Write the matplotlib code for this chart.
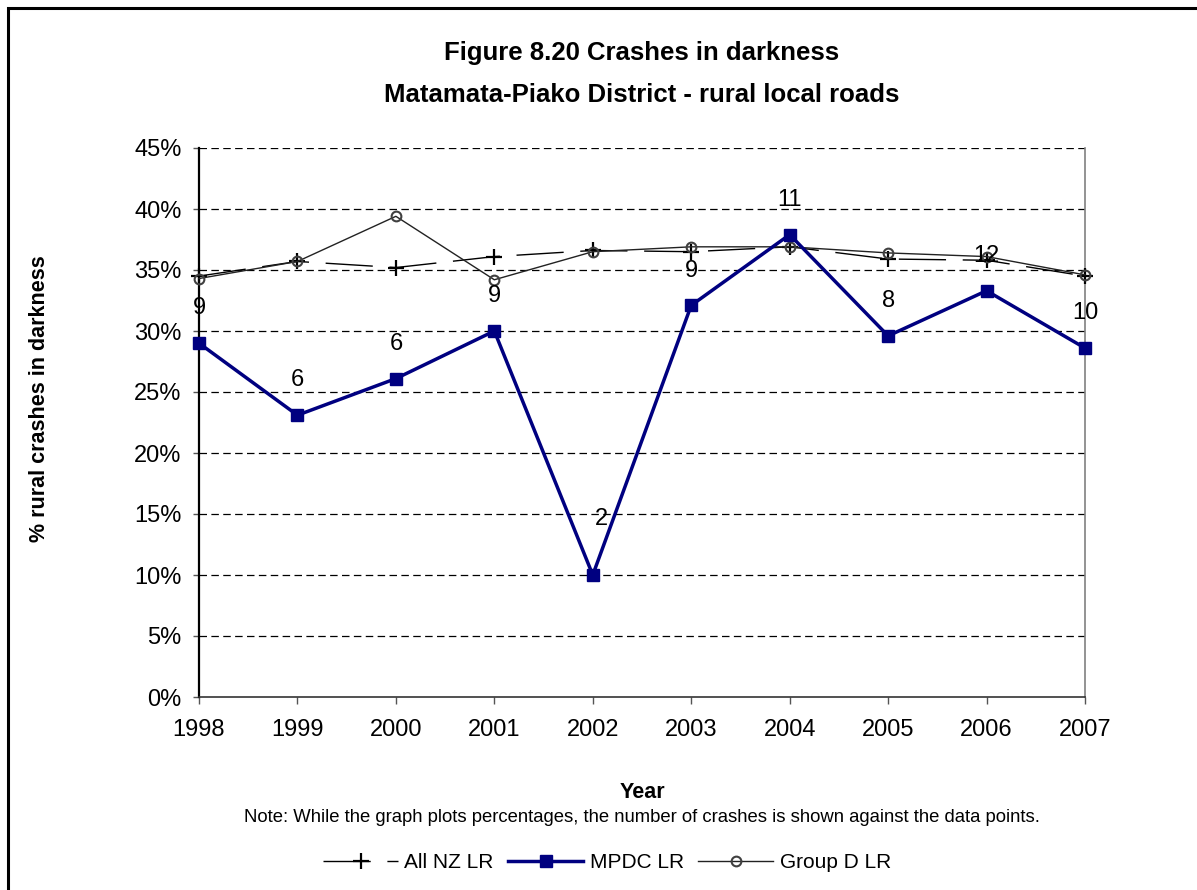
import matplotlib
matplotlib.use('Agg')
import matplotlib.pyplot as plt
from matplotlib.patches import Rectangle

plt.rcParams['font.family'] = ['Liberation Sans', 'DejaVu Sans']

# data
years = [1998, 1999, 2000, 2001, 2002, 2003, 2004, 2005, 2006, 2007]
all_nz = [34.5, 35.7, 35.2, 36.1, 36.6, 36.5, 36.9, 35.9, 35.8, 34.5]
mpdc = [29.0, 23.1, 26.1, 30.0, 10.0, 32.1, 37.9, 29.6, 33.3, 28.6]
group_d = [34.3, 35.7, 39.4, 34.2, 36.5, 36.9, 36.9, 36.4, 36.1, 34.6]
crash_counts = [9, 6, 6, 9, 2, 9, 11, 8, 12, 10]
y_ticks = [0, 5, 10, 15, 20, 25, 30, 35, 40, 45]

W, H = 1197, 890
fig = plt.figure(figsize=(W / 100, H / 100), dpi=100)
fig.patch.set_facecolor('white')

# outer frame (only top/left visible in the reference)
fig.patches.append(Rectangle((8 / W, -0.1), 1.2, 1 - 8 / H + 0.1, transform=fig.transFigure,
                             fill=False, edgecolor='black', linewidth=2.2))

ax = fig.add_axes([199 / W, 1 - 697 / H, (1085 - 199) / W, (697 - 148) / H])

ax.plot(years, all_nz, color='black', linewidth=1.0, dashes=(34, 12),
        marker='+', markersize=11, markeredgewidth=1.6, label='All NZ LR', clip_on=False, zorder=3)
ax.plot(years, mpdc, color='#000080', linewidth=2.5, marker='s', markersize=9,
        label='MPDC LR', clip_on=False, zorder=4)
ax.plot(years, group_d, color='#222222', linewidth=1.0, marker='o', markersize=7,
        markerfacecolor='none', markeredgecolor='#404040', markeredgewidth=1.5,
        label='Group D LR', clip_on=False, zorder=3)

# crash counts above the MPDC points
for x, v, n in zip(years, mpdc, crash_counts):
    dx, dy = (6, 40) if n == 2 else (0, 25)
    ax.annotate(str(n), (x, v), xytext=(dx, dy), textcoords='offset points',
                ha='center', va='center', fontsize=17, zorder=5)

ax.set_xlim(1998, 2007)
ax.set_ylim(0, 45)
ax.set_xticks(years)
ax.set_xticklabels([str(y) for y in years])
ax.set_yticks(y_ticks)
ax.set_yticklabels([f'{t}%' for t in y_ticks])
ax.tick_params(axis='x', direction='out', length=5, width=1, color='#555555', pad=11, labelsize=17)
ax.tick_params(axis='y', direction='out', length=4.5, width=1, color='#555555', pad=8, labelsize=17)

for t in y_ticks[1:]:
    ax.axhline(t, color='black', linewidth=0.9, dashes=(6, 3.5), zorder=1)

ax.spines['top'].set_visible(False)
ax.spines['right'].set_color('#808080')
ax.spines['right'].set_linewidth(1.2)
ax.spines['left'].set_color('black')
ax.spines['left'].set_linewidth(1.6)
ax.spines['bottom'].set_color('#333333')
ax.spines['bottom'].set_linewidth(1.2)

cx = 642 / W
fig.text(cx, 1 - 53 / H, 'Figure 8.20 Crashes in darkness', ha='center', va='center',
         fontsize=18.5, fontweight='bold')
fig.text(cx, 1 - 95 / H, 'Matamata-Piako District - rural local roads', ha='center', va='center',
         fontsize=18.5, fontweight='bold')
fig.text(40 / W, 1 - 399 / H, '% rural crashes in darkness', rotation=90, ha='center', va='center',
         fontsize=15.5, fontweight='bold')
fig.text(cx, 1 - 792 / H, 'Year', ha='center', va='center', fontsize=15.5, fontweight='bold')
fig.text(cx, 1 - 818 / H,
         'Note: While the graph plots percentages, the number of crashes is shown against the data points.',
         ha='center', va='center', fontsize=13.3)

fig.legend(loc='center', bbox_to_anchor=(607 / W, 1 - 863 / H), ncol=3, frameon=False,
           fontsize=15, handlelength=3.6, handletextpad=0.3, columnspacing=0.7)

fig.savefig('out.png', dpi=100, facecolor='white')
